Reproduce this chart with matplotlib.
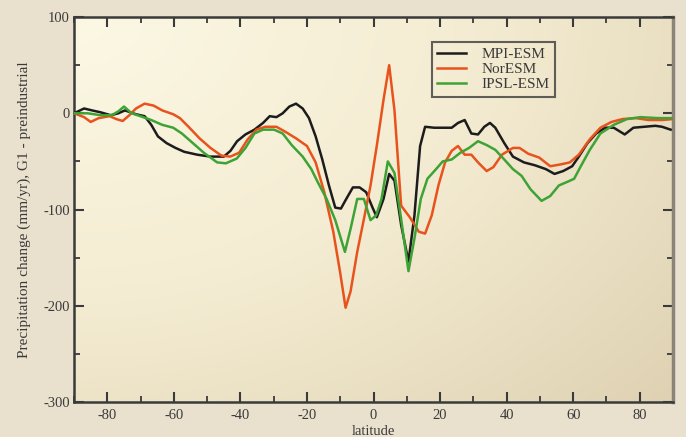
#!/usr/bin/env python3
"""
Zonal-mean precipitation change, G1 minus preindustrial, for three ESMs.
"""

import numpy as np
import matplotlib
matplotlib.use("Agg")
import matplotlib.pyplot as plt
from matplotlib.colors import LinearSegmentedColormap

# values (latitude, mm/yr)
mpi_lat = [-90, -87, -84.6, -82, -79, -76.7, -74.7, -71.4, -68.8, -66.8, -64.8, -62.2,
           -59.5, -56.9, -53, -49, -45, -43, -41, -38.5, -35.8, -33.2, -31.2, -29.2,
           -27.3, -25.3, -23.3, -21.3, -19.4, -17.4, -15.4, -13.4, -11.5, -9.8, -8.2,
           -6.2, -4.2, -2.2, -0.3, 1, 3, 4.7, 6.3, 8.3, 10.5, 12.3, 14, 15.5, 18.2,
           20.8, 23.5, 25.4, 27.4, 29.4, 31.4, 33.3, 35, 36.6, 39.3, 41.9, 45.2, 48.5,
           51.8, 54.4, 57, 59.7, 61.7, 64.3, 66.9, 69.6, 72.2, 75.5, 78.1, 81.4, 84.7,
           86.7, 89.3]
mpi_val = [0, 5, 3, 1, -2, 0, 3, -1, -3, -12, -24, -31,
           -36, -40, -43, -45, -45, -39, -29, -22, -17, -10, -3, -4,
           0, 7, 10, 5, -5, -24, -48, -75, -98, -99, -89,
           -77, -77, -82, -98, -108, -89, -63, -70, -116, -154, -106, -34, -14, -15,
           -15, -15, -10, -7, -21, -22, -14, -10, -15, -31, -45, -51, -54,
           -58, -63, -60, -55, -45, -31, -21, -15, -15, -22, -15, -14, -13,
           -14, -17]

nor_lat = [-90, -87, -85, -82.6, -79.3, -77.3, -75.4, -73.4, -71.4, -68.8, -66.1, -63.5,
           -60.2, -58.2, -55.6, -52.3, -49, -45.7, -43.1, -40.4, -37.8, -35.2, -32.5,
           -29.2, -26.6, -23.3, -20, -17.4, -14.8, -12.1, -10.1, -8.4, -6.9, -4.9, -2.9,
           -0.9, 1.1, 3, 4.7, 6.3, 8.3, 10.9, 13.6, 15.5, 17.5, 19.5, 21.5, 23.5, 25.4,
           27.4, 29.4, 31.4, 34, 36, 38.6, 41.9, 43.9, 46.5, 49.8, 53.1, 56.4, 59,
           61.7, 65, 68.2, 71.5, 74.8, 78.8, 82.7, 86.7, 90]
nor_val = [0, -4, -9, -5, -3, -6, -8, -2, 5, 10, 8, 3,
           -1, -5, -14, -26, -36, -44, -45, -41, -27, -17, -14,
           -14, -19, -26, -34, -51, -82, -123, -164, -202, -185, -144, -110,
           -75, -31, 14, 50, 3, -96, -108, -123, -125, -106, -75, -51, -39, -34,
           -43, -43, -51, -60, -56, -43, -36, -36, -42, -46, -55, -53, -51,
           -43, -27, -15, -9, -6, -5, -7, -7, -6]

ipsl_lat = [-90, -85.9, -82, -78.7, -76.7, -75, -72.7, -70.1, -66.8, -63.5, -60.2, -57.6,
            -54.3, -51, -47, -44.4, -41.1, -38.5, -35.8, -33.2, -29.9, -27.3, -24.6,
            -21.3, -18.7, -16.7, -14.1, -11.5, -8.6, -6.9, -4.9, -2.9, -0.9, 0.8, 2.4,
            4.3, 6.3, 8.3, 10.5, 12.3, 14.2, 16.2, 18.8, 20.8, 23.5, 26.1, 28.7, 31.4,
            34, 36.6, 39.3, 41.9, 44.5, 47.2, 50.5, 53.1, 55.7, 58.4, 60.3, 62.3, 65,
            68.2, 72.2, 76.2, 80.2, 85.5, 90]
ipsl_val = [0, 0, -2, -2, 2, 7, 0, -3, -7, -12, -15, -21,
            -31, -41, -51, -52, -47, -36, -21, -17, -17, -21, -33,
            -45, -58, -72, -89, -111, -144, -120, -89, -89, -111, -106, -89,
            -50, -62, -110, -164, -130, -89, -68, -58, -50, -48, -41, -36, -29,
            -33, -38, -48, -58, -65, -79, -91, -86, -75, -71, -68, -55, -38,
            -21, -12, -6, -4, -5, -5]

models = ["MPI-ESM", "NorESM", "IPSL-ESM"]
colors = ["#1c1c1c", "#e8531d", "#3ea336"]


def paint_background(ax):
    # radial beige gradient inside the axes, lighter towards upper left
    inner = LinearSegmentedColormap.from_list("inner", ["#fcf8e4", "#f4ecd2", "#dfd2b3"])
    gx, gy = np.meshgrid(np.linspace(0, 1, 200), np.linspace(0, 1, 200))
    r = np.sqrt((gx * 1.0) ** 2 + ((1 - gy) * 0.9) ** 2)
    ax.imshow(r, cmap=inner, aspect="auto", extent=[0, 1, 0, 1],
              origin="lower", transform=ax.transAxes, zorder=0)


def main():
    plt.rcParams["font.family"] = ["Liberation Serif", "DejaVu Serif"]
    plt.rcParams["axes.unicode_minus"] = False
    fig = plt.figure(figsize=(6.86, 4.37), dpi=100, facecolor="#e9e1cd")
    ax = fig.add_axes([0.108, 0.080, 0.873, 0.881])
    paint_background(ax)

    for name, lat, val, col in zip(models,
                                   [mpi_lat, nor_lat, ipsl_lat],
                                   [mpi_val, nor_val, ipsl_val], colors):
        ax.plot(lat, val, color=col, lw=1.8, label=name, zorder=3)

    ax.set_xlim(-90, 90)
    ax.set_ylim(-300, 100)
    ax.set_xticks(range(-80, 81, 20))
    ax.set_xticks(range(-90, 91, 10), minor=True)
    ax.set_yticks(range(-300, 101, 100))
    ax.set_yticks(range(-300, 101, 50), minor=True)
    ax.tick_params(which="both", direction="in", top=True, right=True,
                   colors="#3a3a3a", labelcolor="#3a3a3a", labelsize=10.5)
    ax.tick_params(axis="x", pad=5)
    ax.tick_params(axis="y", pad=3)
    ax.tick_params(which="major", length=7, width=1.5)
    ax.tick_params(which="minor", length=4, width=1.3)
    for side in ax.spines.values():
        side.set_linewidth(1.8)
        side.set_color("#3a3a3a")
    ax.spines["right"].set_color("#8c8478")
    ax.spines["right"].set_linewidth(2.5)

    ax.set_xlabel("latitude", fontsize=10.5, color="#3a3a3a", labelpad=2)
    ax.set_ylabel("Precipitation change (mm/yr), G1 - preindustrial",
                  fontsize=11, color="#3a3a3a", labelpad=9)

    leg = ax.legend(loc="upper left", bbox_to_anchor=(0.585, 0.955), fontsize=11,
                    frameon=True, fancybox=False, handlelength=1.9,
                    handletextpad=1.0, borderpad=0.35, labelspacing=0.1)
    leg.get_frame().set_edgecolor("#3a3a3a")
    leg.get_frame().set_linewidth(1.5)
    leg.get_frame().set_facecolor("none")
    for t in leg.get_texts():
        t.set_color("#3a3a3a")

    fig.savefig("out.png", dpi=100, facecolor=fig.get_facecolor())


if __name__ == "__main__":
    main()
